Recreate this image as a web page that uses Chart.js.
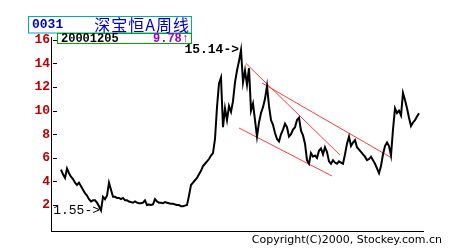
<!DOCTYPE html>
<html>
<head>
<meta charset="utf-8">
<script src="https://cdn.jsdelivr.net/npm/chart.js@4.4.1/dist/chart.umd.min.js"></script>
<style>
  html, body { margin: 0; padding: 0; background: #fff; }
  #wrap { width: 450px; height: 250px; }
</style>
</head>
<body>
<div id="wrap"><canvas id="chart" width="450" height="250"></canvas></div>
<script>
// Weekly closing prices (one value per sample, oldest first)
const closes = [
  5.0, 4.6, 4.3, 5.1, 4.7, 4.4, 4.2, 3.9, 3.7, 3.9,
  3.6, 3.3, 3.0, 2.8, 2.5, 2.3, 2.4, 2.4, 2.2, 1.9,
  1.55, 2.7, 2.5, 2.8, 3.9, 3.3, 2.7, 2.7, 2.6, 2.6,
  2.5, 2.6, 2.4, 2.4, 2.3, 2.25, 2.2, 2.3, 2.2, 2.15,
  2.15, 2.2, 2.4, 2.0, 2.05, 2.0, 2.05, 2.5, 2.3, 2.2,
  2.2, 2.15, 2.25, 2.2, 2.15, 2.1, 2.1, 2.05, 2.0, 2.0,
  1.9, 1.9, 1.95, 2.0, 2.8, 3.7, 3.9, 4.1, 4.3, 4.6,
  4.9, 5.3, 5.5, 5.7, 5.9, 6.2, 6.4, 7.6, 10.3, 12.3,
  12.8, 8.6, 10.2, 9.2, 10.4, 9.9, 10.8, 12.4, 13.4, 14.2,
  15.14, 12.4, 13.4, 12.2, 13.6, 10.0, 10.6, 9.2, 7.8, 9.0,
  9.8, 10.3, 11.0, 12.1, 10.4, 9.2, 8.8, 8.1, 7.6, 7.4,
  8.0, 8.4, 8.9, 8.6, 7.8, 8.0, 8.4, 8.6, 9.2, 9.4,
  8.3, 7.9, 7.2, 5.8, 5.5, 6.4, 6.1, 6.2, 6.0, 6.6,
  6.8, 6.3, 6.9, 6.5, 5.7, 5.5, 5.8, 5.6, 5.5, 5.7,
  5.6, 5.5, 6.3, 7.2, 7.8, 7.0, 7.3, 7.5, 6.9, 6.7,
  6.5, 6.3, 6.1, 5.8, 5.9, 6.1, 5.8, 5.5, 5.1, 4.7,
  5.3, 6.3, 7.0, 7.3, 7.0, 6.2, 8.4, 10.2, 9.8, 10.0,
  9.6, 11.5, 10.9, 10.2, 9.4, 8.7, 9.0, 9.2, 9.5, 9.78
];

// Hand drawn trend lines: [week index, price] at each end
const trendSteep = [[92.5, 14.0], [139.5, 6.24]];
const trendUpper = [[100.5, 12.34], [165.5, 5.98]];
const trendLower = [[89, 8.53], [135.5, 4.46]];

const yTicks = [2, 4, 6, 8, 10, 12, 14, 16];

const stockCode = "0031";
const stockName = "深宝恒A周线";
const lastDate = "20001205";
const lastPrice = "9.78↑";
const copyright = "Copyright(C)2000, Stockey.com.cn";

const MONO = '"Liberation Mono", "DejaVu Sans Mono", monospace';

function toPoints(pairs) {
  return pairs.map(p => ({ x: p[0], y: p[1] }));
}

// Small tick marks drawn just inside the price axis
const innerTicks = {
  id: "innerTicks",
  afterDraw(chart) {
    const ctx = chart.ctx;
    const y = chart.scales.y;
    const left = chart.chartArea.left;
    ctx.save();
    ctx.strokeStyle = "#000";
    ctx.lineWidth = 1;
    yTicks.forEach(v => {
      const py = Math.round(y.getPixelForValue(v)) + 0.5;
      ctx.beginPath();
      ctx.moveTo(left + 2, py);
      ctx.lineTo(left + 6, py);
      ctx.stroke();
    });
    ctx.restore();
  }
};

// High / low markers, title boxes and copyright line
const decorations = {
  id: "decorations",
  afterDraw(chart) {
    const ctx = chart.ctx;
    const xs = chart.scales.x;
    const ys = chart.scales.y;
    ctx.save();

    // highest and lowest close
    let hi = 0, lo = 0;
    closes.forEach((v, i) => {
      if (v > closes[hi]) hi = i;
      if (v < closes[lo]) lo = i;
    });
    ctx.fillStyle = "#000";
    ctx.textAlign = "right";
    ctx.textBaseline = "middle";
    ctx.font = "bold 13px " + MONO;
    ctx.fillText(closes[hi].toFixed(2) + "->", xs.getPixelForValue(hi) - 2, ys.getPixelForValue(closes[hi]));
    ctx.font = "13px " + MONO;
    ctx.fillText(closes[lo].toFixed(2) + "->", xs.getPixelForValue(lo) - 1, ys.getPixelForValue(closes[lo]));

    // title boxes
    ctx.fillStyle = "#fff";
    ctx.fillRect(28, 16, 164, 17);
    ctx.fillRect(57, 33, 135, 11);
    ctx.lineWidth = 1;
    ctx.strokeStyle = "#00a8c0";
    ctx.strokeRect(28.5, 16.5, 163, 16.5);
    ctx.strokeStyle = "#00a800";
    ctx.strokeRect(57.5, 33.5, 134, 10);

    ctx.textBaseline = "middle";
    ctx.textAlign = "left";
    ctx.fillStyle = "#0000c0";
    ctx.font = "bold 13px " + MONO;
    ctx.fillText(stockCode, 32, 25);
    ctx.textAlign = "right";
    ctx.font = '16px "Noto Sans CJK SC"';
    ctx.letterSpacing = "1px";
    ctx.fillText(stockName, 190, 25);
    ctx.letterSpacing = "0px";

    ctx.textAlign = "left";
    ctx.fillStyle = "#000";
    ctx.font = "bold 12px " + MONO;
    ctx.fillText(lastDate, 61, 39);
    ctx.textAlign = "right";
    ctx.fillStyle = "#a000c0";
    ctx.fillText(lastPrice, 189, 39);

    // copyright
    ctx.fillStyle = "#000";
    ctx.font = '11px "DejaVu Sans"';
    ctx.textAlign = "right";
    ctx.fillText(copyright, 442, 240);
    ctx.restore();
  }
};

const redLine = {
  type: "line",
  borderColor: "#ff3c3c",
  borderWidth: 1,
  pointRadius: 0,
  fill: false,
  tension: 0
};

new Chart(document.getElementById("chart"), {
  type: "line",
  data: {
    datasets: [
      {
        label: "close",
        data: closes.map((v, i) => ({ x: i, y: v })),
        borderColor: "#000",
        borderWidth: 2,
        pointRadius: 0,
        fill: false,
        tension: 0
      },
      Object.assign({ label: "steep", data: toPoints(trendSteep) }, redLine),
      Object.assign({ label: "upper", data: toPoints(trendUpper) }, redLine),
      Object.assign({ label: "lower", data: toPoints(trendLower) }, redLine)
    ]
  },
  options: {
    responsive: false,
    animation: false,
    devicePixelRatio: 1,
    layout: { padding: { left: 0, right: 27, top: 37.5, bottom: 19 } },
    plugins: {
      legend: { display: false },
      tooltip: { enabled: false },
      title: { display: false }
    },
    scales: {
      x: {
        type: "linear",
        min: -5,
        max: 181,
        grid: { display: false },
        ticks: { display: false },
        border: { display: true, color: "#000", width: 1 },
        afterFit: s => { s.height = 0; }
      },
      y: {
        type: "linear",
        min: -0.2,
        max: 16.2,
        afterBuildTicks: s => { s.ticks = yTicks.map(v => ({ value: v })); },
        afterFit: s => { s.width = 51; },
        grid: { display: false, drawTicks: false },
        border: { display: true, color: "#000", width: 1 },
        ticks: {
          padding: 1,
          color: "#c00000",
          font: { family: MONO, size: 13, weight: "bold" }
        }
      }
    }
  },
  plugins: [innerTicks, decorations]
});
</script>
</body>
</html>
